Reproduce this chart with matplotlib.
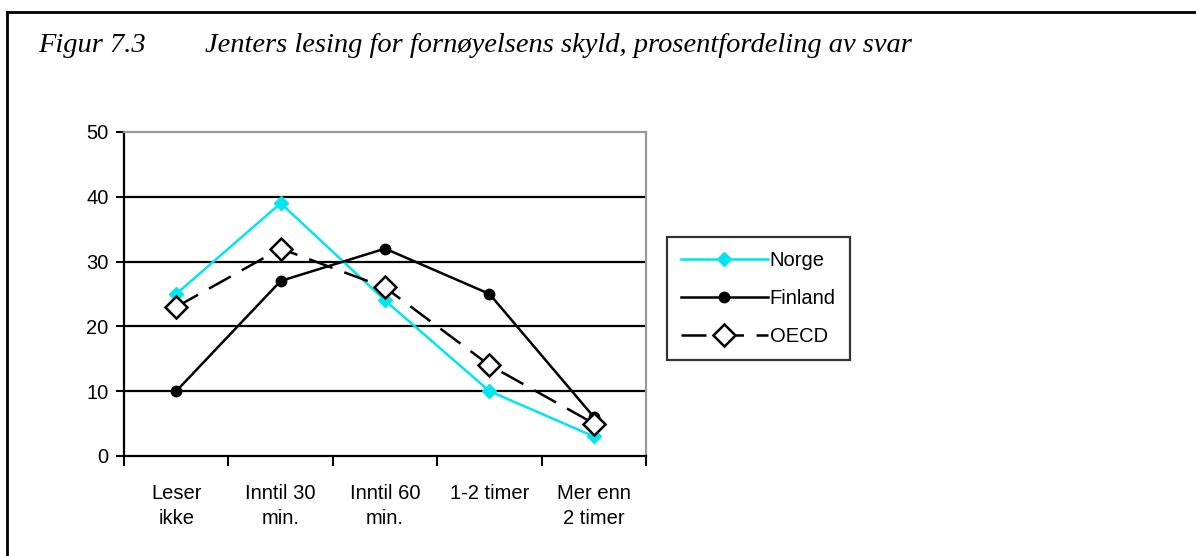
import matplotlib.pyplot as plt
from matplotlib.lines import Line2D

categories = ['Leser\nikke', 'Inntil 30\nmin.', 'Inntil 60\nmin.', '1-2 timer', 'Mer enn\n2 timer']
norge = [25, 39, 24, 10, 3]
finland = [10, 27, 32, 25, 6]
oecd = [23, 32, 26, 14, 5]

plt.rcParams['font.family'] = ['Liberation Sans', 'DejaVu Sans']

fig = plt.figure(figsize=(11.96, 5.56), dpi=100)
ax = fig.add_axes([0.1037, 0.18, 0.4365, 0.5826])

x = list(range(len(categories)))
ax.plot(x, norge, color='#00e5ee', marker='D', markersize=7, linewidth=1.8,
        label='Norge', zorder=3)
ax.plot(x, finland, color='black', marker='o', markersize=7.5, linewidth=1.8,
        label='Finland', zorder=3)
ax.plot(x, oecd, color='black', marker='D', markersize=11, markerfacecolor='white',
        markeredgewidth=1.8, linewidth=1.8, dashes=(10, 5), label='OECD', zorder=4)

# axes styling
ax.set_ylim(0, 50)
ax.set_xlim(-0.5, 4.5)
ax.set_yticks([0, 10, 20, 30, 40, 50])
for v in [10, 20, 30, 40]:
    ax.axhline(v, color='black', linewidth=1.6, zorder=1)
ax.set_xticks([i - 0.5 for i in range(len(categories) + 1)])
ax.set_xticklabels([])
ax.set_xticks(x, minor=True)
ax.set_xticklabels(categories, minor=True, fontsize=14.5, linespacing=1.45)
ax.tick_params(axis='x', which='major', direction='out', length=7, width=1.5)
ax.tick_params(axis='x', which='minor', length=0, pad=20)
ax.tick_params(axis='y', direction='out', length=6, width=1.5, labelsize=14.5, pad=5)
ax.spines['left'].set_linewidth(1.6)
ax.spines['bottom'].set_linewidth(1.6)
ax.spines['top'].set_color('#999999')
ax.spines['right'].set_color('#999999')
ax.spines['top'].set_linewidth(1.6)
ax.spines['right'].set_linewidth(1.6)

leg = ax.legend(loc='upper left', bbox_to_anchor=(1.04, 0.676), fontsize=14.5,
                fancybox=False, frameon=True, edgecolor='black', handlelength=4.3,
                handletextpad=0.1, borderpad=0.7, labelspacing=0.95, borderaxespad=0)
leg.get_frame().set_linewidth(1.6)

# title and outer frame
fig.text(0.032, 0.918, 'Figur 7.3', fontsize=20.5, style='italic',
         family='Liberation Serif', va='center')
fig.text(0.171, 0.918, 'Jenters lesing for fornøyelsens skyld, prosentfordeling av svar',
         fontsize=20.5, style='italic', family='Liberation Serif', va='center')
fig.add_artist(Line2D([0.006, 1.0], [0.978, 0.978], color='black', linewidth=2))
fig.add_artist(Line2D([0.006, 0.006], [0.0, 0.978], color='black', linewidth=2))

plt.savefig('out.png', dpi=100)
plt.close()
